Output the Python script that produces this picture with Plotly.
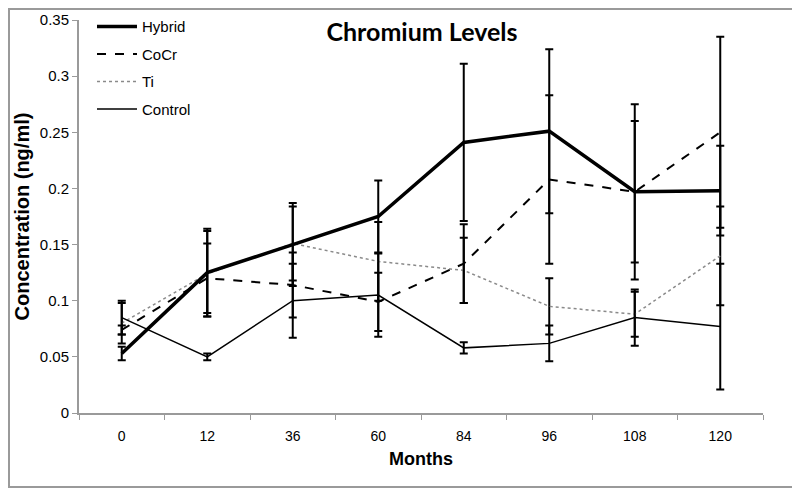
import plotly.graph_objects as go

months = ["0", "12", "36", "60", "84", "96", "108", "120"]

hybrid = [0.053, 0.125, 0.150, 0.175, 0.241, 0.251, 0.197, 0.198]
hybrid_err = [0.006, 0.039, 0.037, 0.032, 0.070, 0.073, 0.078, 0.040]

cocr = [0.074, 0.120, 0.114, 0.099, 0.133, 0.208, 0.197, 0.250]
cocr_err = [0.004, 0.031, 0.029, 0.026, 0.035, 0.075, 0.063, 0.085]

ti = [0.080, 0.124, 0.151, 0.135, 0.127, 0.095, 0.088, 0.140]
ti_err = [0.018, 0.038, 0.033, 0.035, 0.029, 0.025, 0.020, 0.044]

control = [0.085, 0.050, 0.100, 0.105, 0.058, 0.062, 0.085, 0.077]
control_err = [0.015, 0.003, 0.033, 0.037, 0.005, 0.016, 0.025, 0.056]

yticks = [0, 0.05, 0.1, 0.15, 0.2, 0.25, 0.3, 0.35]
ytick_labels = ["0", "0.05", "0.1", "0.15", "0.2", "0.25", "0.3", "0.35"]

star_month = "60"
star_value = 0.224

# page body has an 8px margin; size the figure so it fills the 800x489 view
OFF = 8
W, H = 800 - OFF, 489 - OFF
L, R, T, B = 79 - OFF, 37, 20 - OFF, 76

series = [
    ("Ti", ti, ti_err, dict(color="#8a8a8a", width=1.5, dash="dot"), 3),
    ("Control", control, control_err, dict(color="black", width=1.5), 4),
    ("CoCr", cocr, cocr_err, dict(color="black", width=2, dash="dash"), 2),
    ("Hybrid", hybrid, hybrid_err, dict(color="black", width=3.5), 1),
]

fig = go.Figure()
for name, vals, errs, line, rank in series:
    fig.add_trace(go.Scatter(
        x=months, y=vals, mode="lines", line=line, showlegend=False,
        error_y=dict(type="data", array=errs, visible=True, color="black",
                     thickness=2, width=4),
        hoverinfo="skip",
    ))
for name, vals, errs, line, rank in series:
    fig.add_trace(go.Scatter(
        x=[None], y=[None], mode="lines", line=line, name=name,
        legendrank=rank, legendgroup=name, showlegend=True,
    ))

fig.add_annotation(x=star_month, y=star_value, text="*", showarrow=False,
                   font=dict(family="Liberation Sans", size=18, color="black"))

px_w = W - L - R
px_h = H - T - B
fig.add_shape(type="rect", xref="paper", yref="paper",
              x0=(-L + 1) / px_w, x1=(W - L - 2) / px_w,
              y0=(-B + 2) / px_h, y1=(H - B - 1) / px_h,
              line=dict(color="#9a9a9a", width=2), layer="below")

fig.update_layout(
    width=W, height=H,
    margin=dict(l=L, r=R, t=T, b=B, autoexpand=False),
    paper_bgcolor="white", plot_bgcolor="white",
    title=dict(text="<b>Chromium Levels</b>", x=(422 - OFF) / W, xanchor="center",
               y=1 - (32 - OFF) / H, yanchor="middle",
               font=dict(family="Lato", size=25, color="black")),
    font=dict(family="Liberation Sans", color="black"),
    legend=dict(x=0.019, y=1.025, xanchor="left", yanchor="top",
                bgcolor="rgba(0,0,0,0)", font=dict(size=15),
                tracegroupgap=5, traceorder="grouped", itemwidth=40),
    xaxis=dict(type="category", tickson="boundaries", ticks="outside",
               ticklen=5, tickcolor="#9a9a9a", showline=True,
               linecolor="#9a9a9a", linewidth=2, showgrid=False,
               tickfont=dict(size=14), range=[-0.5, 7.5],
               ticklabelstandoff=9, automargin=False,
               title=dict(text="<b>Months</b>", font=dict(size=18), standoff=10)),
    yaxis=dict(range=[0, 0.35], tickvals=yticks, ticktext=ytick_labels,
               ticks="outside", ticklen=5, tickcolor="#9a9a9a",
               showline=True, linecolor="#9a9a9a", linewidth=2,
               showgrid=False, zeroline=False, tickfont=dict(size=15),
               automargin=False,
               title=dict(text="<b>Concentration (ng/ml)</b>",
                          font=dict(size=20), standoff=5)),
)

fig.write_html("out.html")
